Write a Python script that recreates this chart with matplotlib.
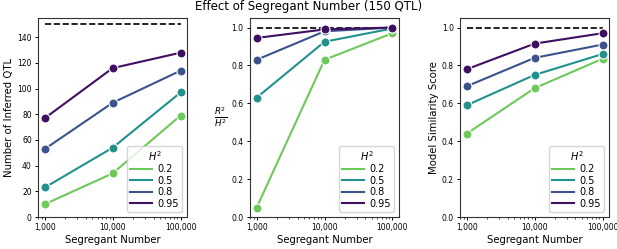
import numpy as np
import matplotlib
matplotlib.use('Agg')
import matplotlib.pyplot as plt
import matplotlib.ticker as mticker

segregants = [1000, 10000, 100000]
heritability = ['0.2', '0.5', '0.8', '0.95']
colors = ['#6cc95a', '#21918c', '#3b528b', '#3e0f62']

n_qtl = [[10, 34, 79],
         [23, 54, 97],
         [53, 89, 114],
         [77, 116, 128]]
r2_h2 = [[0.05, 0.83, 0.97],
         [0.63, 0.925, 0.995],
         [0.83, 0.98, 1.0],
         [0.945, 0.99, 1.0]]
similarity = [[0.44, 0.68, 0.835],
              [0.59, 0.75, 0.86],
              [0.69, 0.84, 0.91],
              [0.78, 0.915, 0.97]]

panels = [(n_qtl, 'Number of Inferred QTL', 150, (0, 155)),
          (r2_h2, r'$\frac{R^2}{H^2}$', 1.0, (0, 1.05)),
          (similarity, 'Model Similarity Score', 1.0, (0, 1.05))]

plt.rcParams['font.family'] = 'DejaVu Sans'
fig = plt.figure(figsize=(6.17, 2.49), dpi=100)
lefts = [0.0616, 0.405, 0.7455]

for left, (data, ylabel, target, ylim) in zip(lefts, panels):
    ax = fig.add_axes([left, 0.1285, 0.242, 0.799])
    ax.plot([segregants[0], segregants[-1]], [target, target], 'k--', lw=1.2)
    for vals, h, c in zip(data, heritability, colors):
        ax.plot(segregants, vals, color=c, lw=1.5, marker='o', markersize=6.5,
                markeredgecolor='white', markeredgewidth=0.8)
        ax.plot([], [], color=c, lw=1.5, label=h)
    ax.set_xscale('log')
    ax.set_ylim(ylim)
    ax.xaxis.set_major_formatter(mticker.FuncFormatter(lambda v, p: '{:,}'.format(int(v))))
    ax.tick_params(labelsize=5.5, width=0.7, length=2.5, pad=2)
    ax.tick_params(which='minor', width=0.5, length=1.5)
    for s in ax.spines.values():
        s.set_linewidth(0.8)
        s.set_color('#333333')
    ax.set_xlabel('Segregant Number', fontsize=7.3, labelpad=2)
    if ylabel.startswith('$'):
        ax.set_ylabel(ylabel, fontsize=9, rotation=0, labelpad=8, va='center')
    else:
        ax.set_ylabel(ylabel, fontsize=7.3, labelpad=2)
    leg = ax.legend(title='$H^2$', loc='lower right', fontsize=7, title_fontsize=7,
                    handlelength=2.2, borderpad=0.35, labelspacing=0.15,
                    handletextpad=0.6)
    leg.get_frame().set_edgecolor('#cccccc')

fig.suptitle('Effect of Segregant Number (150 QTL)', fontsize=8.5, y=0.998)
fig.savefig('out.png', dpi=100)
